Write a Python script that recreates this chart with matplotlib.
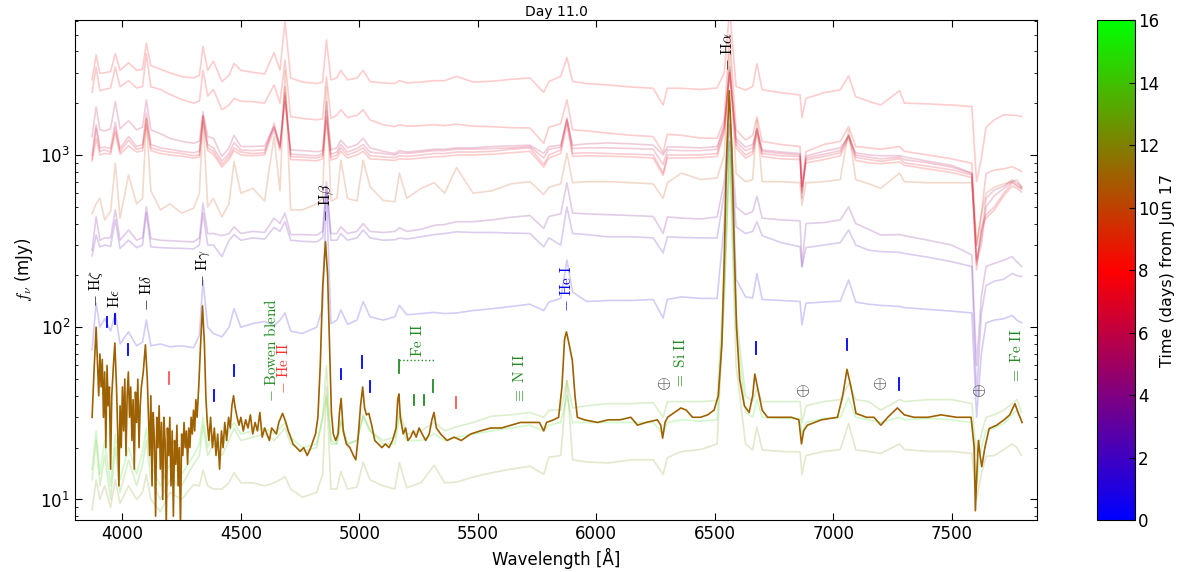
import numpy as np
import matplotlib
matplotlib.use('Agg')
import matplotlib.pyplot as plt
from matplotlib.colors import LinearSegmentedColormap, Normalize
from matplotlib.cm import ScalarMappable

# Сетка длин волн для фоновых спектров (Å)
grid = [3872, 3889, 3905, 3925, 3950, 3970, 3990, 4026, 4060, 4085,
        4101, 4120, 4160, 4200, 4250, 4300, 4325, 4340, 4360, 4384,
        4420, 4450, 4471, 4500, 4550, 4600, 4640, 4665, 4686, 4710,
        4760, 4820, 4845, 4861, 4880, 4905, 4922, 4950, 4990, 5016,
        5045, 5100, 5150, 5169, 5200, 5260, 5316, 5360, 5410, 5480,
        5560, 5640, 5720, 5778, 5800, 5850, 5876, 5900, 5960, 6050,
        6150, 6240, 6282, 6300, 6360, 6440, 6510, 6540, 6563, 6590,
        6630, 6660, 6678, 6700, 6780, 6860, 6868, 6885, 6960, 7030,
        7065, 7095, 7150, 7200, 7280, 7300, 7400, 7500, 7585, 7605,
        7625, 7645, 7680, 7720, 7755, 7775, 7795]

# Фоновые спектры (мЯн) и их дни
day_s1 = 8.0
flux_s1 = [2730, 3800, 2980, 3000, 3050, 3880, 3100, 3430, 3100, 3150,
           4460, 3300, 3150, 3000, 2850, 2800, 2900, 4270, 3100, 3500,
           2670, 2900, 3400, 3100, 3020, 2950, 3930, 3100, 5950, 2800,
           2650, 2600, 2650, 4660, 2730, 2800, 3100, 2730, 2800, 3100,
           2670, 2620, 2600, 2700, 2620, 2650, 2700, 2700, 2860, 2650,
           2680, 2750, 2800, 2310, 2670, 2860, 3680, 2670, 2600, 2550,
           2480, 2440, 1950, 2440, 2440, 2400, 2450, 3000, 7000, 2500,
           2380, 2500, 3380, 2390, 2300, 2230, 1650, 2130, 2300, 2390,
           2880, 2180, 2050, 1950, 2360, 2000, 1980, 1950, 1910, 700,
           950, 1450, 1600, 1710, 1700, 1700, 1670]

day_s2 = 7.8
flux_s2 = [2310, 3240, 2360, 2400, 2450, 3240, 2490, 2700, 2450, 2500,
           3870, 2490, 2400, 2250, 2100, 2000, 2050, 3100, 2200, 2400,
           1830, 1950, 2130, 2050, 2040, 2000, 2550, 2000, 3560, 1670,
           1630, 1600, 1620, 2860, 1630, 1700, 1830, 1650, 1700, 1830,
           1600, 1500, 1460, 1500, 1470, 1480, 1500, 1480, 1510, 1470,
           1460, 1440, 1435, 1170, 1450, 1520, 2090, 1400, 1380, 1340,
           1300, 1280, 1030, 1320, 1300, 1255, 1250, 1600, 5000, 1400,
           1220, 1300, 1670, 1200, 1150, 1120, 655, 1045, 1150, 1200,
           1460, 1120, 1100, 1080, 1120, 1050, 1000, 950, 895, 300,
           450, 780, 818, 830, 855, 830, 800]

day_s3 = 5.5
flux_s3 = [1280, 1900, 1400, 1380, 1420, 2040, 1420, 1580, 1400, 1450,
           2090, 1400, 1330, 1250, 1200, 1170, 1200, 1780, 1280, 1250,
           978, 1100, 1300, 1120, 1120, 1130, 1460, 1140, 2040, 1070,
           1060, 1045, 1060, 2040, 1070, 1100, 1220, 1100, 1150, 1250,
           1100, 1050, 1020, 1060, 1040, 1060, 1080, 1080, 1100, 1100,
           1120, 1130, 1140, 1020, 1120, 1140, 1600, 1140, 1160, 1175,
           1160, 1140, 1000, 1115, 1110, 1100, 1120, 1500, 3240, 1250,
           1110, 1150, 1430, 1070, 1040, 1020, 560, 985, 1050, 1100,
           1280, 1030, 1000, 990, 990, 975, 920, 870, 785, 250,
           330, 560, 627, 660, 716, 690, 655]

day_s4 = 7.0
flux_s4 = [950, 1430, 1050, 1070, 1040, 1430, 1045, 1220, 1080, 1100,
           1640, 1100, 1060, 1040, 1020, 990, 1000, 1670, 1100, 1050,
           880, 980, 1100, 1040, 1020, 1030, 1530, 1100, 2490, 978,
           970, 960, 990, 1670, 970, 1000, 1100, 1000, 1050, 1100,
           990, 975, 965, 990, 980, 1000, 1020, 1020, 1040, 1040,
           1050, 1080, 1100, 880, 1000, 1070, 1600, 1020, 1030, 1020,
           1010, 1000, 785, 1000, 1000, 1000, 1020, 1400, 3100, 1150,
           1000, 1050, 1400, 1020, 990, 978, 655, 935, 980, 1030,
           1300, 970, 940, 920, 950, 900, 860, 820, 765, 215,
           383, 450, 500, 600, 690, 660, 635]

day_s5 = 8.3
flux_s5 = [920, 1250, 1000, 1020, 1010, 1350, 1010, 1130, 1040, 1060,
           1500, 1060, 1020, 1000, 985, 960, 975, 1550, 1060, 1010,
           850, 940, 1060, 1000, 990, 1000, 1400, 1060, 2300, 940,
           935, 925, 950, 1580, 935, 960, 1050, 960, 1000, 1050,
           950, 940, 930, 950, 945, 960, 975, 980, 1000, 1000,
           1010, 1030, 1050, 850, 960, 1020, 1500, 980, 990, 985,
           975, 960, 760, 960, 960, 965, 980, 1350, 3000, 1100,
           960, 1010, 1320, 980, 950, 940, 620, 900, 940, 990,
           1250, 930, 900, 890, 910, 870, 830, 790, 740, 230,
           360, 430, 480, 580, 660, 640, 610]

day_s6 = 6.2
flux_s6 = [1000, 1500, 1100, 1110, 1090, 1550, 1090, 1280, 1120, 1150,
           1750, 1150, 1100, 1080, 1050, 1030, 1050, 1700, 1150, 1100,
           920, 1020, 1180, 1070, 1060, 1070, 1450, 1110, 2200, 1010,
           1000, 990, 1020, 1800, 1010, 1040, 1150, 1040, 1090, 1150,
           1040, 1020, 1000, 1030, 1020, 1040, 1060, 1060, 1080, 1080,
           1090, 1100, 1120, 960, 1080, 1110, 1650, 1090, 1100, 1100,
           1090, 1080, 880, 1070, 1060, 1060, 1080, 1450, 3000, 1200,
           1060, 1100, 1420, 1050, 1020, 1000, 600, 960, 1010, 1060,
           1300, 1000, 970, 950, 970, 940, 900, 850, 780, 240,
           300, 500, 580, 640, 700, 670, 640]

day_s7 = 10.0
flux_s7 = [457, 520, 560, 420, 470, 895, 430, 765, 520, 560,
           1600, 620, 480, 520, 460, 490, 600, 1670, 500, 560,
           437, 520, 915, 600, 640, 540, 1280, 620, 3100, 480,
           480, 520, 560, 2490, 540, 560, 935, 560, 540, 935,
           655, 545, 535, 785, 560, 640, 690, 600, 845, 600,
           620, 680, 700, 590, 650, 680, 1025, 690, 700, 700,
           690, 680, 560, 690, 785, 720, 735, 1000, 4000, 780,
           700, 720, 1600, 700, 700, 690, 510, 690, 700, 720,
           1400, 720, 680, 640, 785, 700, 690, 690, 690, 300,
           450, 600, 650, 680, 700, 720, 650]

day_s8 = 3.5
flux_s8 = [280, 437, 320, 330, 330, 480, 320, 367, 320, 330,
           500, 327, 320, 318, 315, 313, 330, 525, 350, 350,
           340, 350, 383, 350, 360, 355, 430, 400, 460, 345,
           345, 343, 360, 700, 350, 350, 383, 350, 360, 400,
           360, 355, 360, 378, 360, 370, 390, 395, 410, 410,
           420, 435, 445, 375, 440, 455, 690, 460, 455, 450,
           445, 440, 350, 437, 430, 425, 437, 700, 1500, 500,
           450, 470, 575, 430, 420, 415, 225, 400, 405, 420,
           500, 400, 370, 343, 345, 340, 320, 300, 263, 60,
           150, 225, 235, 245, 257, 240, 225]

day_s9 = 2.5
flux_s9 = [260, 343, 293, 300, 295, 420, 287, 320, 290, 300,
           460, 293, 290, 288, 287, 285, 300, 460, 300, 300,
           257, 320, 345, 320, 330, 325, 380, 360, 410, 320,
           315, 313, 330, 655, 320, 320, 350, 320, 330, 367,
           330, 320, 322, 330, 325, 335, 345, 350, 358, 355,
           355, 352, 350, 293, 330, 300, 500, 350, 345, 335,
           335, 330, 270, 335, 332, 330, 330, 600, 1200, 383,
           350, 360, 410, 340, 310, 293, 225, 290, 300, 310,
           367, 300, 280, 275, 272, 268, 255, 240, 225, 40,
           120, 175, 185, 190, 205, 200, 197]

day_s10 = 1.2
flux_s10 = [74, 138, 100, 112, 95, 121, 80, 94, 78, 82,
            110, 78, 80, 77, 78, 76, 90, 188, 100, 92,
            88, 100, 128, 100, 105, 108, 102, 110, 121, 95,
            92, 100, 130, 600, 105, 110, 126, 104, 110, 141,
            115, 110, 115, 134, 118, 120, 122, 120, 121, 125,
            128, 132, 136, 125, 140, 147, 245, 160, 141, 143,
            143, 145, 113, 145, 150, 147, 147, 400, 2000, 190,
            150, 148, 205, 145, 143, 141, 103, 138, 140, 142,
            188, 140, 136, 134, 132, 130, 127, 124, 121, 30,
            70, 106, 110, 112, 117, 110, 106]

day_s11 = 15.0
flux_s11 = [15, 25, 14, 22, 12, 24, 13, 20, 14, 19,
            26, 16, 12, 16, 14, 18, 21, 30, 20, 24,
            20, 25, 28, 24, 25, 26, 24, 26, 28, 23,
            20, 21, 30, 40, 22, 21, 29, 21, 22, 30.5,
            25, 21, 21, 30, 22, 22, 24, 22, 23, 24,
            25, 26, 27, 25, 27, 28, 40, 28, 28, 28,
            28, 28, 24, 28, 29, 28.5, 29, 150, 1200, 100,
            32, 30, 38, 30, 29.5, 29.5, 24, 28, 29.5, 30,
            39, 30, 29, 28, 30, 29, 29.5, 29, 28, 12,
            20, 25, 26, 27.6, 31, 33, 29]

day_s12 = 13.5
flux_s12 = [13, 22, 12, 18, 10, 20, 11, 17, 12, 16,
            22, 13, 10, 13, 12, 16, 18, 27, 18, 21,
            18, 22, 26, 22, 23, 24, 22, 24, 26, 21,
            19, 20, 30, 60, 21, 21, 28, 21, 22, 31,
            25, 22, 23, 33, 24, 25, 28, 25, 26.4, 28,
            30.5, 31, 32, 30, 33, 33, 49, 34, 35, 36,
            36, 36.5, 30, 37, 37, 37, 37.5, 200, 1500, 120,
            40, 37, 44, 37, 37, 37, 28, 35, 37, 38,
            47, 38, 37, 33, 38, 37, 38, 38, 36, 18,
            24, 30, 31, 33, 36, 38, 32]

day_s13 = 12.5
flux_s13 = [8.7, 13, 10, 12, 9, 13, 9.5, 12, 10, 11,
            14, 10, 8.5, 11, 10, 12.2, 12, 14.8, 12, 11.5,
            11.5, 12.5, 14.3, 12.5, 12.5, 12, 12.5, 13, 13.6, 11.5,
            10.3, 11, 14, 45, 11.5, 11.5, 14.5, 11.5, 11.8, 16.5,
            13, 12, 11.5, 16.4, 11.7, 12.5, 15.8, 12.5, 12.6, 13.5,
            14.3, 15, 15.6, 14, 17.6, 18, 49, 17, 16.5, 16.3,
            17, 17, 14, 17.5, 19, 19.5, 21, 150, 1000, 60,
            21, 19.4, 26.4, 19.4, 19, 18.9, 14, 18, 19, 19.5,
            27.6, 19.4, 19, 18.5, 21, 19.5, 19, 19, 18.5, 10,
            14, 17.8, 18, 19.5, 21, 20, 18]

# Текущий спектр (день 11.0)
day_now = 11.0
now_wl = [3872, 3880, 3889, 3895, 3900, 3905, 3910, 3915, 3920, 3925,
          3930, 3935, 3940, 3945, 3950, 3955, 3962, 3968, 3975, 3980,
          3985, 3990, 3995, 4000, 4005, 4010, 4015, 4020, 4025, 4030,
          4035, 4040, 4045, 4050, 4055, 4060, 4065, 4070, 4075, 4080,
          4088, 4097, 4105, 4110, 4115, 4120, 4125, 4130, 4135, 4140,
          4145, 4150, 4155, 4160, 4165, 4170, 4175, 4180, 4185, 4190,
          4195, 4200, 4205, 4210, 4215, 4220, 4225, 4230, 4235, 4240,
          4245, 4250, 4255, 4260, 4265, 4270, 4275, 4280, 4285, 4290,
          4295, 4300, 4305, 4310, 4315, 4322, 4330, 4338, 4346, 4352,
          4358, 4365, 4372, 4380, 4388, 4395, 4402, 4410, 4418, 4425,
          4432, 4440, 4448, 4455, 4462, 4469, 4476, 4484, 4492, 4500,
          4510, 4520, 4530, 4540, 4550, 4560, 4570, 4580, 4590, 4600,
          4610, 4620, 4630, 4640, 4650, 4660, 4676, 4690, 4700, 4710,
          4720, 4735, 4750, 4765, 4780, 4795, 4805, 4815, 4825, 4835,
          4845, 4857, 4866, 4875, 4882, 4890, 4900, 4910, 4916, 4923,
          4932, 4945, 4960, 4975, 4985, 4995, 5005, 5014, 5022, 5030,
          5040, 5052, 5065, 5080, 5095, 5110, 5125, 5140, 5155, 5162,
          5167, 5173, 5185, 5195, 5205, 5216, 5228, 5240, 5252, 5265,
          5280, 5295, 5306, 5315, 5325, 5343, 5370, 5400, 5430, 5470,
          5510, 5554, 5600, 5640, 5680, 5723, 5760, 5778, 5790, 5820,
          5841, 5855, 5866, 5874, 5885, 5899, 5910, 5920, 5950, 6005,
          6050, 6100, 6146, 6174, 6210, 6258, 6272, 6280, 6290, 6301,
          6330, 6357, 6380, 6406, 6440, 6470, 6497, 6515, 6530, 6540,
          6550, 6561, 6572, 6582, 6592, 6605, 6625, 6645, 6660, 6669,
          6680, 6700, 6723, 6780, 6824, 6855, 6866, 6875, 6891, 6950,
          7018, 7040, 7058, 7075, 7096, 7140, 7172, 7201, 7230, 7271,
          7300, 7341, 7400, 7455, 7520, 7582, 7595, 7600, 7606, 7613,
          7620, 7627, 7640, 7658, 7690, 7721, 7745, 7767, 7780, 7797]
now_fx = [30, 55, 100, 60, 40, 70, 45, 65, 30, 55,
          20, 60, 35, 45, 15, 40, 60, 81, 45, 25,
          12, 35, 20, 45, 25, 50, 18, 40, 55, 30,
          45, 22, 38, 15, 42, 28, 50, 20, 35, 45,
          55, 79, 50, 30, 18, 40, 12, 32, 22, 8,
          30, 20, 35, 15, 28, 10, 30, 22, 7, 26,
          18, 30, 12, 25, 8, 22, 16, 27, 12, 20,
          7, 24, 18, 28, 20, 25, 16, 26, 20, 30,
          24, 33, 25, 38, 30, 45, 80, 133, 80, 40,
          28, 22, 30, 20, 26, 18, 24, 15, 25, 20,
          28, 22, 30, 26, 35, 40, 34, 30, 27, 30,
          25, 29, 26, 31, 24, 28, 25, 32, 23, 26,
          24, 22, 26, 25, 24, 28, 31.6, 28, 25, 23,
          21, 20, 19, 20, 18, 20, 22, 24, 30, 60,
          170, 313, 200, 70, 32, 24, 22, 24, 32, 38.6,
          25, 21, 20, 18, 17, 23, 35, 45, 34, 31,
          31.6, 27, 22, 21, 20, 21, 20, 22, 26, 38,
          41, 30, 24, 26, 22, 23, 25, 23, 26, 24,
          22, 24, 29, 32, 26, 24, 22, 23, 22, 24,
          25, 26, 26, 27, 28, 28, 28, 25, 28, 29,
          30, 45, 85, 94, 80, 64, 40, 30, 29, 28,
          29, 29, 30, 27, 28, 29, 27, 22.7, 28, 30,
          32, 34, 33, 30, 30, 31, 33, 40, 80, 250,
          1000, 2360, 1100, 300, 100, 50, 35, 32, 40, 53.5,
          45, 33, 30, 30, 30, 29, 21, 25, 27, 29,
          30, 40, 57, 45, 31.6, 30, 30, 27, 30, 34,
          31, 30, 30, 31, 30, 30, 20, 8.6, 14, 22,
          18, 15.5, 20, 25.8, 27, 29, 31, 36, 32, 28]

# Метки линий
lab_txt = [r'$-\ \mathrm{H}\zeta$', r'$-\ \mathrm{H}\epsilon$', r'$-\ \mathrm{H}\delta$',
           r'$-\ \mathrm{H}\gamma$', r'$-\ \mathrm{H}\beta$', r'$-\ \mathrm{H}\alpha$',
           r'$-\ \mathrm{He\ I}$', r'$-\ \mathrm{Bowen\ blend}$', r'$-\ \mathrm{He\ II}$',
           r'$\mathrm{Fe\ II}$', r'$\equiv\ \mathrm{N\ II}$', r'$=\ \mathrm{Si\ II}$',
           r'$=\ \mathrm{Fe\ II}$']
lab_wl = [3889, 3966, 4100, 4340, 4861, 6555, 5874, 4625, 4681, 5245, 5674, 6357, 7773]
lab_fx = [131, 105, 125, 172, 410, 3090, 123, 37, 41, 67, 36, 44, 47]
lab_col = ['k', 'k', 'k', 'k', 'k', 'k', 'blue', 'forestgreen', '#ff3333',
           'forestgreen', 'forestgreen', 'forestgreen', 'forestgreen']

# Короткие вертикальные отметки линий
tick_wl = [3935, 3968, 4024, 4198, 4386, 4470, 4921, 5012, 5044,
           5167, 5230, 5273, 5312, 5409, 6676, 7060, 7279]
tick_lo = [100, 104, 69, 47, 37.5, 52, 50, 58, 42, 54, 35.3, 35.3, 42.2, 33.9, 70, 74, 43.4]
tick_hi = [115, 120, 80, 55, 43.4, 60.5, 57.5, 68, 49, 64.5, 40.3, 40.3, 49.2, 39.6, 82, 86, 51]
tick_col = ['blue', 'blue', 'blue', '#ff5555', 'blue', 'blue', 'blue', 'blue', 'blue',
            'forestgreen', 'forestgreen', 'forestgreen', 'forestgreen', '#ff5555',
            'blue', 'blue', 'blue']

# Теллурические полосы
tell_wl = [6282, 6870, 7195, 7614]
tell_fx = [47.6, 43, 47, 43]

cmap = LinearSegmentedColormap.from_list('time', ['blue', 'red', 'lime'])
norm = Normalize(0, 16)

fig = plt.figure(figsize=(11.78, 5.72), dpi=100)
ax = fig.add_axes([0.0637, 0.0909, 0.8166, 0.874])
cax = fig.add_axes([0.9312, 0.0909, 0.0323, 0.874])

background = [(day_s1, flux_s1), (day_s2, flux_s2), (day_s3, flux_s3), (day_s4, flux_s4),
              (day_s5, flux_s5), (day_s6, flux_s6), (day_s7, flux_s7), (day_s8, flux_s8),
              (day_s9, flux_s9), (day_s10, flux_s10), (day_s11, flux_s11),
              (day_s12, flux_s12), (day_s13, flux_s13)]
for d, f in background:
    ax.plot(grid, f, color=cmap(norm(d)), alpha=0.2, lw=1.2)

ax.plot(now_wl, now_fx, color=cmap(norm(day_now)), lw=1.2, zorder=5)

for t, w, f, c in zip(lab_txt, lab_wl, lab_fx, lab_col):
    ax.text(w, f, t, rotation=90, ha='center', va='bottom', color=c,
            fontsize=11, math_fontfamily='cm', zorder=6)

for w, lo, hi, c in zip(tick_wl, tick_lo, tick_hi, tick_col):
    ax.plot([w, w], [lo, hi], color=c, lw=1.3, zorder=6)

ax.plot([5167, 5315], [64.5, 64.5], ':', color='forestgreen', lw=1, zorder=6)

for w, f in zip(tell_wl, tell_fx):
    ax.text(w, f, r'$\oplus$', ha='center', va='center', fontsize=13,
            color='#333333', math_fontfamily='cm', zorder=6)

ax.set_yscale('log')
ax.set_xlim(3800, 7860)
ax.set_ylim(7.6, 6070)
ax.set_xticks([4000, 4500, 5000, 5500, 6000, 6500, 7000, 7500])
ax.tick_params(which='both', direction='in', top=True, right=True, labelsize=12)
ax.tick_params(which='major', length=5)
ax.tick_params(which='minor', length=2.5)
ax.set_xlabel('Wavelength [Å]', fontsize=12)
ax.set_ylabel(r'$f_\nu$ (mJy)', fontsize=12, math_fontfamily='cm')
ax.set_title('Day 11.0', fontsize=10, pad=3)

sm = ScalarMappable(norm=norm, cmap=cmap)
cb = fig.colorbar(sm, cax=cax, ticks=range(0, 17, 2))
cb.ax.tick_params(direction='in', labelsize=12, length=4, pad=2)
cb.set_label('Time (days) from Jun 17', fontsize=11.5, labelpad=1)

fig.savefig('out.png', dpi=100)
